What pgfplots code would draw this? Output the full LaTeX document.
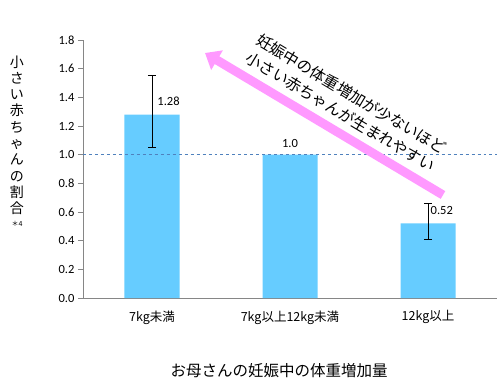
\documentclass[border=0pt]{standalone}
\usepackage{pgfplots}
\pgfplotsset{compat=1.18}
\usepackage{fontspec}
\setmainfont{Carlito}
\newfontfamily\cjk{Noto Sans CJK JP}
\usetikzlibrary{arrows.meta}
\definecolor{barblue}{HTML}{66CCFF}
\definecolor{axgray}{HTML}{868686}
\definecolor{dashblue}{HTML}{4F81BD}
\definecolor{arrowpink}{HTML}{FF99FF}
\begin{document}
\begin{tikzpicture}
\path[use as bounding box] (-83bp,-90bp) rectangle (417bp,298bp);
\begin{axis}[
  at={(0,0)}, anchor=south west,
  scale only axis, width=414bp, height=258bp,
  xmin=-0.5, xmax=2.5, ymin=0, ymax=1.8,
  axis x line=bottom, axis y line=left,
  axis line style={axgray, -, line width=0.8bp},
  ytick={0,0.2,...,1.8},
  yticklabel style={/pgf/number format/fixed, /pgf/number format/fixed zerofill, /pgf/number format/precision=1, font=\fontsize{12.5bp}{14bp}\selectfont},
  /pgf/number format/assume math mode=true,
  xtick={0,1,2},
  xticklabels={{\cjk 7kg未満},{\cjk 7kg以上12kg未満},{\cjk 12kg以上}},
  xticklabel style={font=\fontsize{12.5bp}{14bp}\selectfont, yshift=-4bp},
  major x tick style={draw=none},
  extra x ticks={-0.5,0.5,1.5,2.5},
  extra x tick labels={},
  extra x tick style={major tick length=5bp, tick style={axgray, line width=0.8bp}, tick align=outside},
  tick style={axgray, line width=0.8bp},
  tick align=outside, major tick length=5bp,
  clip=false,
]
\addplot[ybar, bar width=55bp, fill=barblue, draw=none] coordinates {(0,1.28) (1,1.0) (2,0.52)};
\addplot[dashed, dashblue, line width=0.8bp] coordinates {(-0.5,1) (2.5,1)};
\addplot[draw=none, mark=none, error bars/.cd, y dir=both, y explicit,
  error bar style={black, line width=0.8bp}, error mark options={black, mark size=4bp, rotate=90, line width=0.8bp}]
  coordinates {(0,1.28) += (0,0.27) -= (0,0.23) (2,0.52) += (0,0.14) -= (0,0.11)};
\node[font=\fontsize{12.5bp}{14bp}\selectfont] at (axis cs:0.12,1.37) {1.28};
\node[font=\fontsize{12.5bp}{14bp}\selectfont] at (axis cs:1.0,1.075) {1.0};
\node[font=\fontsize{12.5bp}{14bp}\selectfont] at (axis cs:2.1,0.61) {0.52};
\end{axis}
\draw[arrowpink, line width=9bp, -{Triangle[width=22bp,length=14bp]}] (360bp,103bp) -- (122bp,245bp);
\node[rotate=-31, font=\cjk\fontsize{15.5bp}{21bp}\selectfont, align=center] at (263bp,195bp) {妊娠中の体重増加が少ないほど\\小さい赤ちゃんが生まれやすい};
\node[font=\cjk\fontsize{15.5bp}{18bp}\selectfont] at (196bp,-73bp) {お母さんの妊娠中の体重増加量};
\node[font=\cjk\fontsize{14bp}{16.3bp}\selectfont, align=center, anchor=north] at (-66bp,246bp) {小\\さ\\い\\赤\\ち\\ゃ\\ん\\の\\割\\合\\[-4bp]{\fontsize{7bp}{8bp}\selectfont ＊4}};
\end{tikzpicture}
\end{document}
